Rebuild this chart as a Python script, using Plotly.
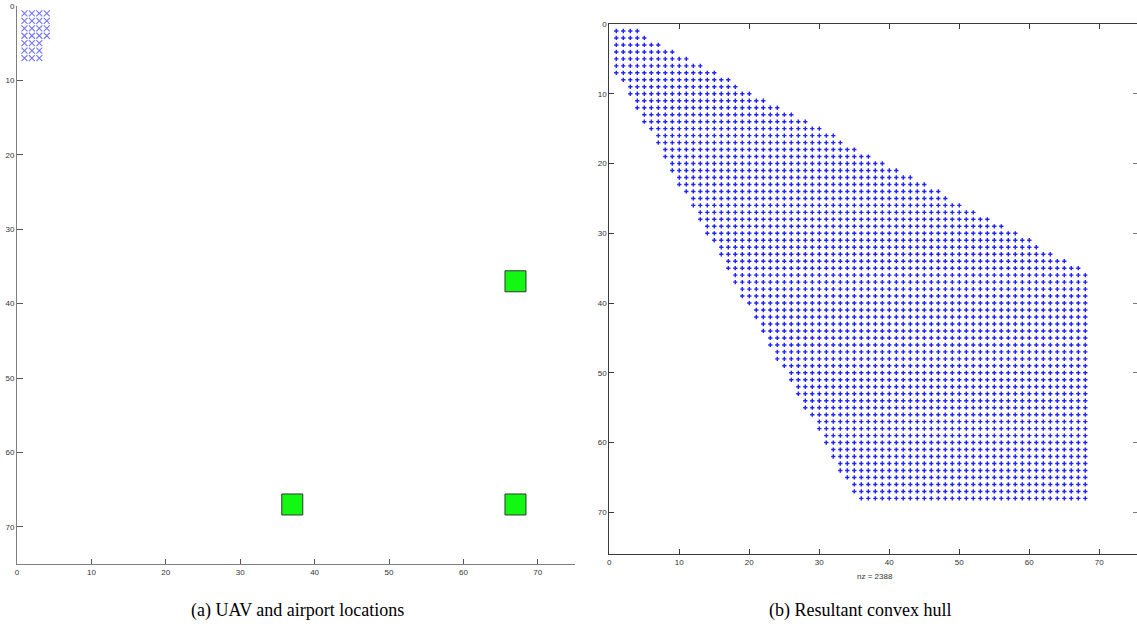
import plotly.graph_objects as go

# ---- Data ----
# (a) UAV positions: rows 1..7, number of UAVs (columns starting at 1) in each row
uav_rows = [1, 2, 3, 4, 5, 6, 7]
uav_cols_per_row = [4, 4, 4, 4, 3, 3, 3]

# airports
airport_x = [67, 37, 67]
airport_y = [37, 67, 67]

# (b) convex hull: for each row 1..68, first and last non-zero column
hull_rows = list(range(1, 69))
hull_row_start = [1, 1, 1, 1, 1, 1, 1, 2, 3, 3,
                  4, 4, 5, 5, 6, 7, 7, 8, 8, 9,
                  9, 10, 10, 11, 12, 12, 13, 13, 14, 14,
                  15, 16, 16, 17, 17, 18, 18, 19, 19, 20,
                  21, 21, 22, 22, 23, 23, 24, 24, 25, 26,
                  26, 27, 27, 28, 28, 29, 30, 30, 31, 31,
                  32, 32, 33, 33, 34, 35, 35, 36]
hull_row_end = [4, 5, 7, 9, 11, 13, 15, 17, 18, 20,
                22, 24, 26, 28, 30, 32, 33, 35, 37, 39,
                41, 43, 45, 47, 48, 50, 52, 54, 56, 58,
                60, 61, 63, 65, 67, 68, 68, 68, 68, 68,
                68, 68, 68, 68, 68, 68, 68, 68, 68, 68,
                68, 68, 68, 68, 68, 68, 68, 68, 68, 68,
                68, 68, 68, 68, 68, 68, 68, 68]

tick_vals = [0, 10, 20, 30, 40, 50, 60, 70]

# ---- Expand into points ----
ux, uy = [], []
for r, n in zip(uav_rows, uav_cols_per_row):
    for c in range(1, n + 1):
        ux.append(c)
        uy.append(r)

hx, hy = [], []
for r, s, e in zip(hull_rows, hull_row_start, hull_row_end):
    for c in range(s, e + 1):
        hx.append(c)
        hy.append(r)
nz = len(hx)

W, H = 1137, 633

fig = go.Figure()

fig.add_trace(go.Scatter(
    x=ux, y=uy, mode="markers", xaxis="x", yaxis="y",
    marker=dict(symbol="x-thin", size=6, line=dict(width=1.1, color="#7474ff"), color="#7474ff"),
    showlegend=False, hoverinfo="skip"))

fig.add_trace(go.Scatter(
    x=airport_x, y=airport_y, mode="markers", xaxis="x", yaxis="y",
    marker=dict(symbol="square", size=21, color="#12f812", line=dict(width=1, color="#333333")),
    showlegend=False, hoverinfo="skip"))

fig.add_trace(go.Scatter(
    x=hx, y=hy, mode="markers", xaxis="x2", yaxis="y2",
    marker=dict(symbol="cross", size=3.6, color="#2424ff", line=dict(width=0)),
    showlegend=False, hoverinfo="skip"))

# invisible trace to anchor right-side tick axis
fig.add_trace(go.Scatter(x=[None], y=[None], xaxis="x2", yaxis="y3",
                         showlegend=False, hoverinfo="skip"))

tick_font = dict(family="Liberation Sans, Arial, sans-serif", size=8, color="#333333")

# left panel geometry (pixels)
L_x0, L_x1 = 17, 575
L_y0, L_y1 = 6, 564
# right panel geometry
R_x0 = 609.3
R_unit_x = 7.0
R_y0, R_y1 = 24, 554.2

fig.update_layout(
    width=W, height=H,
    margin=dict(l=0, r=0, t=0, b=0, autoexpand=False),
    paper_bgcolor="white", plot_bgcolor="white",
    xaxis=dict(domain=[L_x0 / W, L_x1 / W], range=[0, 75], anchor="y",
               showgrid=False, zeroline=False, showline=True, linecolor="#808080", linewidth=1,
               ticks="inside", ticklen=5, tickcolor="#555555", tickvals=tick_vals,
               tickfont=tick_font, mirror=False),
    yaxis=dict(domain=[1 - L_y1 / H, 1 - L_y0 / H], range=[75, 0], anchor="x",
               showgrid=False, zeroline=False, showline=True, linecolor="#808080", linewidth=1,
               ticks="inside", ticklen=6, tickcolor="#555555", tickvals=tick_vals,
               tickfont=tick_font, mirror=False),
    xaxis2=dict(domain=[R_x0 / W, 1.0], range=[0, (W - R_x0) / R_unit_x], anchor="y2",
                showgrid=False, zeroline=False, showline=True, linecolor="#3a3a3a", linewidth=1,
                ticks="inside", ticklen=5, tickcolor="#3a3a3a", tickvals=tick_vals,
                tickfont=tick_font, mirror="ticks"),
    yaxis2=dict(domain=[1 - R_y1 / H, 1 - R_y0 / H], range=[76, 0], anchor="x2",
                showgrid=False, zeroline=False, showline=True, linecolor="#3a3a3a", linewidth=1,
                ticks="inside", ticklen=5, tickcolor="#3a3a3a", tickvals=tick_vals,
                tickfont=tick_font, mirror=False),
    yaxis3=dict(domain=[1 - R_y1 / H, 1 - R_y0 / H], range=[76, 0], anchor="x2",
                overlaying="y2", side="right",
                showgrid=False, zeroline=False, showline=False,
                ticks="inside", ticklen=4, tickcolor="#777777", tickvals=tick_vals,
                showticklabels=False),
)

fig.add_annotation(text=f"nz = {nz}", xref="x2", yref="paper",
                   x=38, y=1 - 576 / H, showarrow=False,
                   font=dict(family="Liberation Sans, Arial, sans-serif", size=8, color="#333333"),
                   xanchor="center", yanchor="middle")

cap_font = dict(family="Liberation Serif, Times New Roman, serif", size=18, color="black")
fig.add_annotation(text="(a) UAV and airport locations", xref="paper", yref="paper",
                   x=297 / W, y=1 - 610 / H, showarrow=False, font=cap_font,
                   xanchor="center", yanchor="middle")
fig.add_annotation(text="(b) Resultant convex hull", xref="paper", yref="paper",
                   x=860 / W, y=1 - 610 / H, showarrow=False, font=cap_font,
                   xanchor="center", yanchor="middle")

fig.write_html("out.html",
               config={"displayModeBar": False},
               post_script="document.body.style.margin='0';document.body.style.padding='0';")
